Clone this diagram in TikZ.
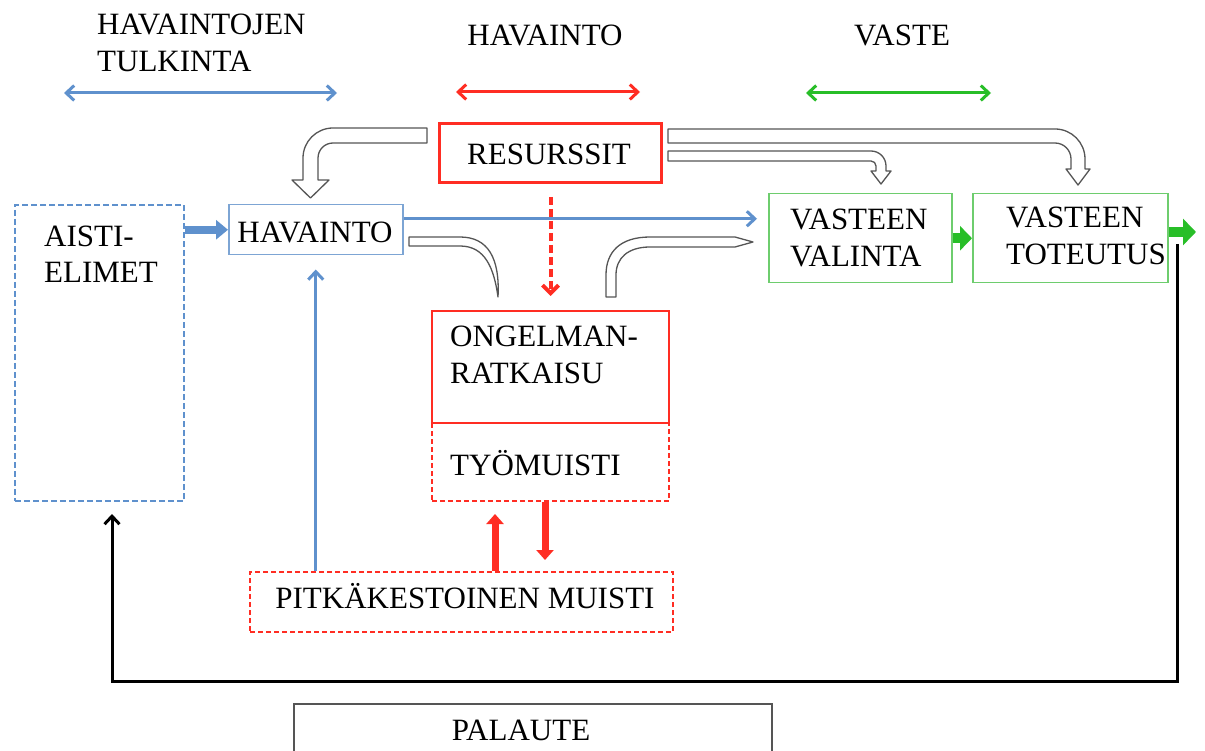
\documentclass[tikz,border=0pt]{standalone}
\usepackage{fontspec}
\setmainfont{Liberation Serif}
\usetikzlibrary{arrows.meta,calc}
\definecolor{cblue}{RGB}{95,145,205}
\definecolor{cbluebox}{RGB}{125,165,212}
\definecolor{cred}{RGB}{255,45,35}
\definecolor{cgreen}{RGB}{40,190,40}
\definecolor{cgreenbox}{RGB}{110,205,110}
\definecolor{cgray}{RGB}{85,85,85}
\begin{document}
\begin{tikzpicture}[x=1pt,y=-1pt,
  txt/.style={font=\fontsize{31}{37}\selectfont, inner sep=0pt},
  lt/.style={txt, anchor=base west},
  ct/.style={txt, anchor=base},
  boxbase/.style={inner sep=0pt, anchor=north west, fill=white},
  bluebox/.style={boxbase, draw=cbluebox, line width=1.5pt},
  bluedash/.style={boxbase, draw=cblue, line width=2pt, dash pattern=on 6pt off 3pt},
  redbox/.style={boxbase, draw=cred, line width=2pt},
  redthick/.style={boxbase, draw=cred, line width=3pt},
  reddash/.style={boxbase, draw=cred, line width=2pt, dash pattern=on 5pt off 3pt},
  greenbox/.style={boxbase, draw=cgreenbox, line width=1.5pt},
  blackbox/.style={boxbase, draw=cgray, line width=1.5pt},
  barb/.style={-{Straight Barb[length=8pt,width=15pt]}, line width=3pt},
  dbarb/.style={{Straight Barb[length=8pt,width=15pt]}-{Straight Barb[length=8pt,width=15pt]}, line width=3pt},
  hollow/.style={draw=cgray, fill=white, line width=1.3pt, line join=round},
]
\clip (0,0) rectangle (1205,751);
\fill[white] (0,0) rectangle (1205,751);

% ---- top labels and double arrows
\node[lt] (t1a) at (97,35) {HAVAINTOJEN};
\node[lt] (t1b) at (97,72) {TULKINTA};
\node[ct] (t2) at (545,46) {HAVAINTO};
\node[ct] (t3) at (902,46) {VASTE};
\coordinate (b1) at (64,93);  \coordinate (b2) at (337,93);
\coordinate (r1) at (456,92); \coordinate (r2) at (640,92);
\coordinate (g1) at (806,93); \coordinate (g2) at (991,93);
\draw[dbarb, cblue] (b1) -- (b2);
\draw[dbarb, cred] (r1) -- (r2);
\draw[dbarb, cgreen] (g1) -- (g2);

% ---- boxes
\node[bluedash, minimum width=169pt, minimum height=296pt] (aisti) at (14,204) {};
\node[bluebox, minimum width=174pt, minimum height=50pt] (hav) at (228,204) {};
\node[redthick, minimum width=222pt, minimum height=59pt] (res) at (438,122) {};
\node[greenbox, minimum width=183pt, minimum height=89pt] (val) at (768,193) {};
\node[greenbox, minimum width=195pt, minimum height=89pt] (tot) at (972,193) {};
\node[reddash, minimum width=237pt, minimum height=78pt] (tyo) at (431,422) {};
\node[redbox, minimum width=237pt, minimum height=112pt] (ong) at (431,310) {};
\node[reddash, minimum width=423pt, minimum height=60pt] (pitka) at (249,571) {};
\node[blackbox, minimum width=478pt, minimum height=90pt] (pal) at (293,703) {};

% ---- box texts
\node[lt] at (44,247) {AISTI-};
\node[lt] at (44,283) {ELIMET};
\node[ct] at (315,243) {HAVAINTO};
\node[ct] at (549,165) {RESURSSIT};
\node[lt] at (790,230) {VASTEEN};
\node[lt] at (790,267) {VALINTA};
\node[lt] at (1006,228) {VASTEEN};
\node[lt] at (1006,265) {TOTEUTUS};
\node[lt] at (450,347) {ONGELMAN-};
\node[lt] at (450,383) {RATKAISU};
\node[lt] at (450,475) {TYÖMUISTI};
\node[ct] at (465,608) {PITKÄKESTOINEN MUISTI};
\node[ct] at (521,740) {PALAUTE};

% ---- hollow block arrows
% RESURSSIT -> HAVAINTO
\path[hollow] (427,128) -- (333,128) arc[start angle=270, end angle=180, radius=30]
  -- (303,180) -- (292,180) -- (310.5,198) -- (329,180) -- (318,180) -- (318,158)
  arc[start angle=180, end angle=270, radius=15] -- (427,143) -- cycle;
% RESURSSIT -> VASTEEN TOTEUTUS
\path[hollow] (668,129) -- (1055,129) arc[start angle=270, end angle=360, radius=30]
  -- (1085,169) -- (1090,169) -- (1078,185) -- (1066,169) -- (1071,169) -- (1071,159)
  arc[start angle=0, end angle=-90, radius=16] -- (668,143) -- cycle;
% RESURSSIT -> VASTEEN VALINTA
\path[hollow] (668,151) -- (871,151) arc[start angle=270, end angle=360, radius=15]
  -- (886,171) -- (891,171) -- (881,184) -- (871,171) -- (876,171) -- (876,166)
  arc[start angle=0, end angle=-90, radius=5] -- (668,161) -- cycle;
% HAVAINTO -> ONGELMANRATKAISU
\path[hollow] (409,237) -- (460,237) .. controls (488,237) and (500,258) .. (498,297)
  .. controls (494,268) and (485,246) .. (460,246) -- (409,246) -- cycle;
% ONGELMANRATKAISU -> VASTEEN VALINTA
\path[hollow] (606,297) -- (606,275) .. controls (606,252) and (620,237) .. (650,237)
  -- (735,237) -- (753,242) -- (735,247) -- (650,247)
  .. controls (628,247) and (616,258) .. (616,275) -- (616,297) -- cycle;

% ---- connectors
\draw[line width=8pt, cblue, -{Triangle[length=12pt,width=19pt]}] (aisti.east |- hav.west) -- (hav.west);
\draw[barb, cblue, shorten >=11pt] ([yshift=11pt]hav.east) -- ([yshift=11pt]hav.east -| val.west);
\draw[barb, cblue, shorten >=14pt] (pitka.north -| hav.south) -- (hav.south);
\draw[cred, line width=4pt, dash pattern=on 8pt off 4pt, -{Straight Barb[length=8pt,width=16pt]},
  shorten <=13pt, shorten >=14pt] (res.south) -- (ong.north);
\draw[cred, line width=7pt, -{Triangle[length=10pt,width=17pt]}, shorten >=12pt]
  ([xshift=-55.5pt]tyo.south |- pitka.north) -- ([xshift=-55.5pt]tyo.south);
\draw[cred, line width=7pt, -{Triangle[length=10pt,width=17pt]}, shorten >=11pt]
  ([xshift=-5.5pt]tyo.south) -- ([xshift=-5.5pt]tyo.south |- pitka.north);
\draw[cgreen, line width=10pt, -{Triangle[length=12pt,width=24pt]}] (val.east) -- (tot.west);
\coordinate (gout) at (1196,232);
\draw[cgreen, line width=10pt, -{Triangle[length=13pt,width=26pt]}] (tot.east |- gout) -- (gout);
\coordinate (fbs) at (1177,244);
\coordinate (fbc) at (112,681);
\draw[barb, black, line join=miter, shorten >=12pt] (fbs) |- (fbc) -- (fbc |- aisti.south);
\end{tikzpicture}
\end{document}
